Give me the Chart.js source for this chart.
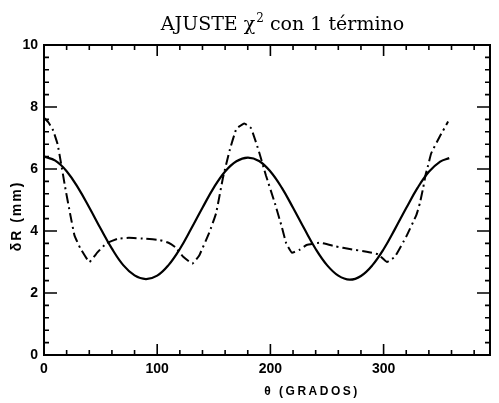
<!DOCTYPE html>
<html>
<head>
<meta charset="utf-8">
<script src="https://cdn.jsdelivr.net/npm/chart.js@4"></script>
<style>
  body { margin: 0; background: #fff; }
  #caja { width: 499px; height: 403px; }
</style>
</head>
<body>
<div id="caja"><canvas id="grafico" width="499" height="403"></canvas></div>
<script>
// curva continua (ajuste)
var angulosAjuste = [0, 10, 20, 30, 40, 50, 60, 70, 80, 90, 100, 110, 120, 130, 140, 150, 160, 170, 180,
    190, 200, 210, 220, 230, 240, 250, 260, 270, 280, 290, 300, 310, 320, 330, 340, 350, 358];
var radiosAjuste = [6.40, 6.27, 5.93, 5.40, 4.76, 4.08, 3.43, 2.90, 2.57, 2.45, 2.56, 2.90, 3.42, 4.07, 4.75, 5.40, 5.92, 6.25, 6.37,
    6.26, 5.92, 5.40, 4.75, 4.07, 3.42, 2.90, 2.56, 2.43, 2.55, 2.89, 3.41, 4.06, 4.74, 5.39, 5.91, 6.24, 6.35];

// curva de trazos y puntos (medidas)
var angulosMedida = [0, 4, 8, 12, 15, 18.5, 23, 27, 32, 40, 47, 55, 65, 75, 90, 102, 110, 116, 123, 131,
    137, 146, 152, 158, 164, 170, 177, 183, 190, 196, 204, 210, 214, 219, 226, 232, 244, 258, 270, 285,
    295, 303, 310, 320, 329, 332, 335, 337, 339, 342, 349.5, 357];
var radiosMedida = [7.65, 7.50, 7.25, 6.80, 6.20, 5.45, 4.57, 3.85, 3.45, 3.00, 3.30, 3.60, 3.75, 3.78, 3.75, 3.71, 3.62, 3.48, 3.17, 2.95,
    3.20, 3.95, 4.57, 5.70, 6.60, 7.30, 7.47, 7.31, 6.55, 5.80, 4.89, 4.14, 3.60, 3.30, 3.40, 3.55, 3.62, 3.50, 3.42, 3.33,
    3.25, 3.00, 3.17, 3.82, 4.52, 4.89, 5.40, 5.80, 6.07, 6.50, 7.04, 7.53];

var etiquetasX = [0, 100, 200, 300];
var etiquetasY = [0, 2, 4, 6, 8, 10];

function puntos(xs, ys) {
    return xs.map(function(x, i) { return { x: x, y: ys[i] }; });
}

// marco, marcas hacia dentro y textos
var marcoPlugin = {
    id: 'marco',
    afterDraw: function(chart) {
        var ctx = chart.ctx;
        var a = chart.chartArea;
        var sx = chart.scales.x;
        var sy = chart.scales.y;
        ctx.save();
        ctx.strokeStyle = '#000';
        ctx.lineWidth = 2;
        ctx.strokeRect(a.left, a.top, a.right - a.left, a.bottom - a.top);

        ctx.lineWidth = 1.6;
        ctx.beginPath();
        for (var v = 0; v <= 380; v += 20) {
            var px = sx.getPixelForValue(v);
            var largo = (v % 100 === 0) ? 11 : 5;
            ctx.moveTo(px, a.bottom); ctx.lineTo(px, a.bottom - largo);
            ctx.moveTo(px, a.top); ctx.lineTo(px, a.top + largo);
        }
        for (var w = 0; w <= 10.001; w += 0.4) {
            var py = sy.getPixelForValue(w);
            var r = Math.round(w * 10);
            var largoY = (r % 20 === 0) ? 13 : 5;
            ctx.moveTo(a.left, py); ctx.lineTo(a.left + largoY, py);
            ctx.moveTo(a.right, py); ctx.lineTo(a.right - largoY, py);
        }
        ctx.stroke();

        ctx.fillStyle = '#000';
        ctx.textBaseline = 'alphabetic';
        // titulo con superindice
        var t1 = 'AJUSTE \u03c7';
        var t2 = ' con 1 t\u00e9rmino';
        ctx.font = '19px "DejaVu Serif"';
        var w1 = ctx.measureText(t1).width;
        var w3 = ctx.measureText(t2).width;
        ctx.font = '12px "DejaVu Serif"';
        var w2 = ctx.measureText('2').width;
        var x0 = 282 - (w1 + w2 + w3) / 2;
        ctx.font = '19px "DejaVu Serif"';
        ctx.fillText(t1, x0, 30);
        ctx.font = '12px "DejaVu Serif"';
        ctx.fillText('2', x0 + w1 + 1, 22);
        ctx.font = '19px "DejaVu Serif"';
        ctx.fillText(t2, x0 + w1 + w2 + 1, 30);

        // titulo eje x
        ctx.font = 'bold 12px "Liberation Sans"';
        ctx.letterSpacing = '2.5px';
        ctx.textAlign = 'center';
        ctx.textBaseline = 'middle';
        ctx.fillText('\u03b8 (GRADOS)', 312, 392);

        // titulo eje y
        ctx.translate(17, 216);
        ctx.rotate(-Math.PI / 2);
        ctx.letterSpacing = '2px';
        ctx.font = 'bold 14px "Liberation Sans"';
        ctx.fillText('\u03b4R (mm)', 0, 0);
        ctx.restore();
    }
};

new Chart(document.getElementById('grafico'), {
    type: 'scatter',
    data: {
        datasets: [{
            label: 'ajuste',
            data: puntos(angulosAjuste, radiosAjuste),
            showLine: true,
            borderColor: '#000',
            borderWidth: 2.2,
            pointRadius: 0,
            tension: 0.4
        }, {
            label: 'medida',
            data: puntos(angulosMedida, radiosMedida),
            showLine: true,
            borderColor: '#000',
            borderWidth: 2,
            borderDash: [10, 4, 2, 4],
            pointRadius: 0,
            tension: 0.1
        }]
    },
    options: {
        responsive: false,
        animation: false,
        layout: { padding: { top: 45, right: 9, left: 0, bottom: 0 } },
        plugins: {
            legend: { display: false },
            tooltip: { enabled: false }
        },
        scales: {
            x: {
                type: 'linear',
                min: 0,
                max: 394,
                grid: { display: false, drawTicks: false },
                border: { display: false },
                afterBuildTicks: function(s) {
                    s.ticks = etiquetasX.map(function(v) { return { value: v }; });
                },
                afterFit: function(s) { s.height = 48; },
                ticks: {
                    padding: 6,
                    color: '#000',
                    font: { family: 'Liberation Sans', weight: 'bold', size: 14 },
                    maxRotation: 0
                }
            },
            y: {
                min: 0,
                max: 10,
                grid: { display: false, drawTicks: false },
                border: { display: false },
                afterBuildTicks: function(s) {
                    s.ticks = etiquetasY.map(function(v) { return { value: v }; });
                },
                afterFit: function(s) { s.width = 44; },
                ticks: {
                    padding: 6,
                    color: '#000',
                    font: { family: 'Liberation Sans', weight: 'bold', size: 14 }
                }
            }
        }
    },
    plugins: [marcoPlugin]
});
</script>
</body>
</html>
